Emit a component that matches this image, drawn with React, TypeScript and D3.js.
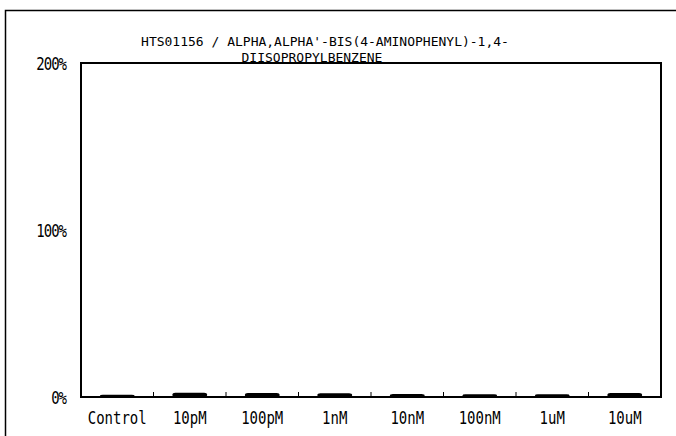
import React, { useRef, useEffect } from 'react';
import * as d3 from 'd3';

const categories = ['Control', '10pM', '100pM', '1nM', '10nM', '100nM', '1uM', '10uM'];
const values = [0.014, 0.026, 0.024, 0.022, 0.018, 0.016, 0.016, 0.024];
const yTicks = [0, 1, 2];
const titleLines = [
  "HTS01156 / ALPHA,ALPHA'-BIS(4-AMINOPHENYL)-1,4-",
  'DIISOPROPYLBENZENE',
];

const App = () => {
  const svgRef = useRef<SVGSVGElement>(null);
  const width = 676;
  const height = 436;
  const margin = { top: 63, right: 15, bottom: 39, left: 81 };

  useEffect(() => {
    const svg = d3.select(svgRef.current);
    svg.selectAll('*').remove();

    const font = "'DejaVu Sans Mono', monospace";

    // outer frame (scan border)
    svg.append('path')
      .attr('d', `M5.5,${height} L5.5,10.5 L${width},10.5`)
      .attr('fill', 'none')
      .attr('stroke', '#000')
      .attr('stroke-width', 1.5);

    const x = d3.scaleBand()
      .domain(categories)
      .range([margin.left, width - margin.right])
      .padding(0);

    const y = d3.scaleLinear()
      .domain([0, 2])
      .range([height - margin.bottom, margin.top]);

    // bars
    svg.selectAll('rect.bar')
      .data(values)
      .join('rect')
      .attr('class', 'bar')
      .attr('x', (d, i) => x(categories[i])! + x.bandwidth() * 0.26)
      .attr('width', x.bandwidth() * 0.48)
      .attr('y', d => y(d))
      .attr('height', d => y(0) - y(d))
      .attr('rx', 3)
      .attr('fill', '#000');

    // plot frame
    svg.append('rect')
      .attr('x', margin.left)
      .attr('y', margin.top)
      .attr('width', width - margin.left - margin.right)
      .attr('height', height - margin.top - margin.bottom)
      .attr('fill', 'none')
      .attr('stroke', '#000')
      .attr('stroke-width', 2);

    // category boundary ticks on baseline
    svg.selectAll('line.tick')
      .data(categories.slice(1))
      .join('line')
      .attr('class', 'tick')
      .attr('x1', d => x(d)!)
      .attr('x2', d => x(d)!)
      .attr('y1', y(0))
      .attr('y2', y(0) - 5)
      .attr('stroke', '#000')
      .attr('stroke-width', 1);

    // y tick labels
    svg.selectAll('text.ylab')
      .data(yTicks)
      .join('text')
      .attr('class', 'ylab')
      .attr('transform', d => `translate(66,${y(d) + 7}) scale(1,1.25)`)
      .attr('text-anchor', 'end')
      .attr('font-family', font)
      .attr('font-size', 14)
      .attr('letter-spacing', -1)
      .attr('fill', '#000')
      .text(d => `${d * 100}%`);

    // category labels
    svg.selectAll('text.xlab')
      .data(categories)
      .join('text')
      .attr('class', 'xlab')
      .attr('transform', d => `translate(${x(d)! + x.bandwidth() / 2},${height - 12}) scale(1,1.25)`)
      .attr('text-anchor', 'middle')
      .attr('font-family', font)
      .attr('font-size', 14)
      .attr('fill', '#000')
      .text(d => d);

    // title
    svg.selectAll('text.title')
      .data(titleLines)
      .join('text')
      .attr('class', 'title')
      .attr('x', (d, i) => (i === 0 ? 325 : 312))
      .attr('y', (d, i) => 46 + i * 16)
      .attr('text-anchor', 'middle')
      .attr('font-family', font)
      .attr('font-size', 13)
      .attr('fill', '#000')
      .text(d => d);
  }, []);

  return (
    <svg
      ref={svgRef}
      width={width}
      height={height}
      style={{ position: 'absolute', left: 0, top: 0, background: '#fff' }}
    />
  );
};

export default App;
